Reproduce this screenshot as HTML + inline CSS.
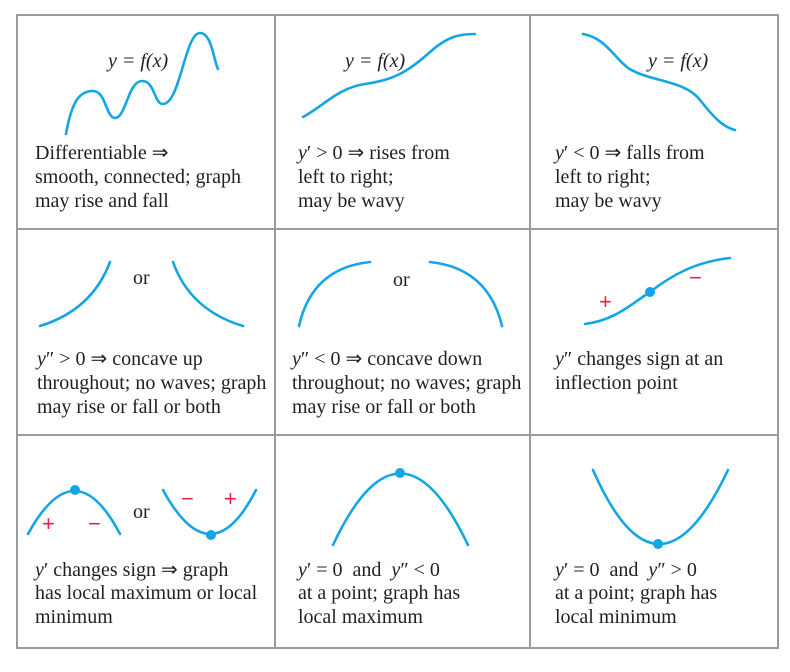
<!DOCTYPE html>
<html><head><meta charset="utf-8"><style>
html,body{margin:0;padding:0;background:#fff}
svg{display:block}
text{font-family:"Liberation Serif",serif;font-size:20px;fill:#231f20}
.c{fill:none;stroke:#12a6e4;stroke-width:2.6;stroke-linecap:round}
.d{fill:#12a6e4}
.s{fill:#e8204a;font-family:"Liberation Sans",sans-serif;font-size:22px}
</style></head><body>
<svg width="790" height="672" viewBox="0 0 790 672">
<g stroke="#9a9a9a" stroke-width="2" fill="none">
<rect x="17" y="15" width="761" height="633"/>
<line x1="275" y1="15" x2="275" y2="648"/><line x1="530" y1="15" x2="530" y2="648"/>
<line x1="17" y1="229" x2="778" y2="229"/><line x1="17" y1="435" x2="778" y2="435"/>
</g>
<g>
<path class="c" d="M66,134 C72,100 80,91 93,91 C106,91 106,118 115,118 C126,118 128,81 142,81 C155,81 154,104 163,104 C180,104 185,33 200,33 C212,33 214,62 218,69"/>
<text x="108" y="67" font-style="italic">y&#160;=&#160;f(x)</text>
<text x="35" y="159">Differentiable ⇒</text><text x="35" y="183">smooth, connected; graph</text><text x="35" y="207">may rise and fall</text>
</g>
<g>
<path class="c" d="M303,117 C325,105 338,88 365,84 C395,80 410,70 430,52 C448,36 460,34 475,34"/>
<text x="345" y="67" font-style="italic">y&#160;=&#160;f(x)</text>
<text x="298" y="159"><tspan font-style="italic">y</tspan>′ &gt; 0 ⇒ rises from</text><text x="298" y="183">left to right;</text><text x="298" y="207">may be wavy</text>
</g>
<g>
<path class="c" d="M583,34 C605,38 612,55 628,68 C650,82 685,80 700,100 C712,115 722,127 735,130"/>
<text x="648" y="67" font-style="italic">y&#160;=&#160;f(x)</text>
<text x="555" y="159"><tspan font-style="italic">y</tspan>′ &lt; 0 ⇒ falls from</text><text x="555" y="183">left to right;</text><text x="555" y="207">may be wavy</text>
</g>
<g>
<path class="c" d="M40,326 Q92,310 110,262"/><path class="c" d="M173,262 Q190,310 243,326"/>
<text x="133" y="284">or</text>
<text x="37" y="365"><tspan font-style="italic">y</tspan>″ &gt; 0 ⇒ concave up</text><text x="37" y="389">throughout; no waves; graph</text><text x="37" y="413">may rise or fall or both</text>
</g>
<g>
<path class="c" d="M299,326 Q312,268 370,262"/><path class="c" d="M430,262 Q488,268 502,326"/>
<text x="393" y="286">or</text>
<text x="292" y="365"><tspan font-style="italic">y</tspan>″ &lt; 0 ⇒ concave down</text><text x="292" y="389">throughout; no waves; graph</text><text x="292" y="413">may rise or fall or both</text>
</g>
<g>
<path class="c" d="M585,324 C615,320 630,305 650,292 C672,275 695,262 730,258"/>
<circle class="d" cx="650" cy="292" r="5"/>
<text class="s" x="599" y="309">+</text><text class="s" x="689" y="285">−</text>
<text x="555" y="365"><tspan font-style="italic">y</tspan>″ changes sign at an</text><text x="555" y="389">inflection point</text>
</g>
<g>
<path class="c" d="M28,534 Q75,448 120,534"/><circle class="d" cx="75" cy="490" r="5"/>
<text class="s" x="42" y="531">+</text><text class="s" x="88" y="531">−</text>
<text x="133" y="518">or</text>
<path class="c" d="M163,490 Q211,578 256,490"/><circle class="d" cx="211" cy="535" r="5"/>
<text class="s" x="181" y="506">−</text><text class="s" x="224" y="506">+</text>
<text x="35" y="576"><tspan font-style="italic">y</tspan>′ changes sign ⇒ graph</text><text x="35" y="599">has local maximum or local</text><text x="35" y="623">minimum</text>
</g>
<g>
<path class="c" d="M333,545 Q400,402 468,545"/><circle class="d" cx="400" cy="473" r="5"/>
<text x="298" y="576"><tspan font-style="italic">y</tspan>′&#160;=&#160;0&#160;&#160;and&#160;&#160;<tspan font-style="italic">y</tspan>″&#160;&lt;&#160;0</text><text x="298" y="599">at a point; graph has</text><text x="298" y="623">local maximum</text>
</g>
<g>
<path class="c" d="M593,470 Q658,618 728,470"/><circle class="d" cx="658" cy="544" r="5"/>
<text x="555" y="576"><tspan font-style="italic">y</tspan>′&#160;=&#160;0&#160;&#160;and&#160;&#160;<tspan font-style="italic">y</tspan>″&#160;&gt;&#160;0</text><text x="555" y="599">at a point; graph has</text><text x="555" y="623">local minimum</text>
</g>
</svg>
</body></html>
